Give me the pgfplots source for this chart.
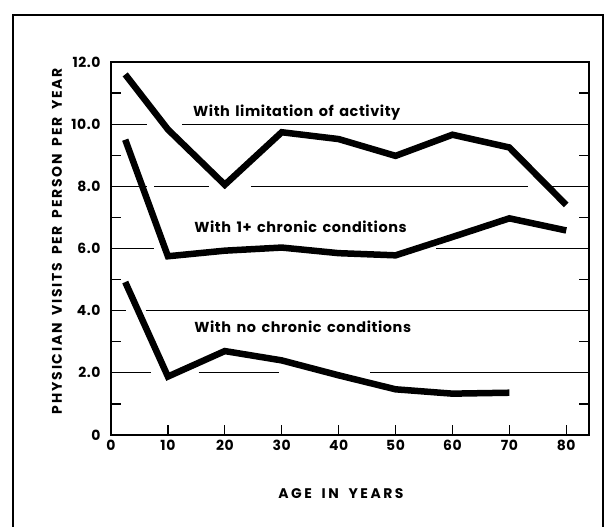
\documentclass[border=0pt]{standalone}
\usepackage{pgfplots}
\pgfplotsset{compat=1.18}
\usepackage{fontspec}
\setmainfont{Poppins}
\newfontfamily\lab{Poppins}[LetterSpace=4, WordSpace=1.5]
\newfontfamily\axlab{Poppins}[LetterSpace=13, WordSpace=1.6]
\newfontfamily\xlab{Poppins}[LetterSpace=18, WordSpace=1.8]
\begin{document}
\begin{tikzpicture}[x=1bp,y=1bp]
\useasboundingbox (0,0) rectangle (609,527);
\draw[line width=1.5bp] (13,-20) -- (13,512) -- (603,512) -- (603,-20);
\begin{axis}[
  at={(111bp,92bp)}, anchor=south west,
  scale only axis, width=478bp, height=373bp,
  xmin=0, xmax=84, ymin=0, ymax=12,
  axis line style={line width=1.5bp},
  xtick={0,10,...,80}, xtick pos=left,
  ytick={0,2,...,12},
  yticklabels={0,2.0,4.0,6.0,8.0,10.0,12.0},
  minor ytick={1,3,...,11},
  major tick length=10bp, minor tick length=10bp,
  every tick/.style={line width=1.2bp, black},
  /pgf/number format/assume math mode=true,
  tick label style={font=\lab\bfseries\fontsize{14}{16}\selectfont},
  xticklabel style={yshift=-2bp},
  yticklabel style={xshift=-7bp},
  every axis y label/.style={at={(axis description cs:-0.113,0.52)},rotate=90,anchor=center,font=\axlab\bfseries\fontsize{14}{16}\selectfont},
  every axis x label/.style={at={(axis description cs:0.481,-0.158)},anchor=center,font=\xlab\bfseries\fontsize{14}{16}\selectfont},
  xlabel={AGE IN YEARS},
  ylabel={PHYSICIAN VISITS PER PERSON PER YEAR},
  clip=false,
  unbounded coords=jump,
]
% broken horizontal guide lines
\addplot[black, line width=1.2bp] coordinates {(0,10) (6.4,10) (nan,nan) (12.5,10) (84,10)};
\addplot[black, line width=1.2bp] coordinates {(0,8) (6.3,8) (nan,nan) (7.6,8) (17.2,8) (nan,nan) (24.6,8) (73.2,8) (nan,nan) (77.5,8) (84,8)};
\addplot[black, line width=1.2bp] coordinates {(0,6) (7.6,6) (nan,nan) (57.2,6) (84,6)};
\addplot[black, line width=1.2bp] coordinates {(0,4) (2.6,4) (nan,nan) (6.1,4) (84,4)};
\addplot[black, line width=1.2bp] coordinates {(0,2) (7.0,2) (nan,nan) (15.4,2) (29.5,2) (nan,nan) (45.6,2) (84,2)};
% series
\addplot[black, line width=6.5bp] coordinates {(2.5,11.6) (10,9.83) (20,8.05) (30,9.74) (40,9.52) (50,8.98) (60,9.66) (70,9.25) (80,7.4)};
\addplot[black, line width=6.5bp] coordinates {(2.5,9.5) (10,5.75) (20,5.93) (30,6.03) (40,5.85) (50,5.78) (60,6.37) (70,6.97) (80,6.58)};
\addplot[black, line width=6.5bp] coordinates {(2.5,4.92) (10,1.88) (20,2.7) (30,2.4) (40,1.92) (50,1.47) (60,1.33) (70,1.36)};
\node[anchor=base west, inner sep=0, font=\lab\bfseries\fontsize{14.5}{16}\selectfont] at (axis cs:14.4,10.26) {With limitation of activity};
\node[anchor=base west, inner sep=0, font=\lab\bfseries\fontsize{14.5}{16}\selectfont] at (axis cs:14.6,6.53) {With 1+ chronic conditions};
\node[anchor=base west, inner sep=0, font=\lab\bfseries\fontsize{14.5}{16}\selectfont] at (axis cs:14.6,3.31) {With no chronic conditions};
\end{axis}
\end{tikzpicture}
\end{document}
